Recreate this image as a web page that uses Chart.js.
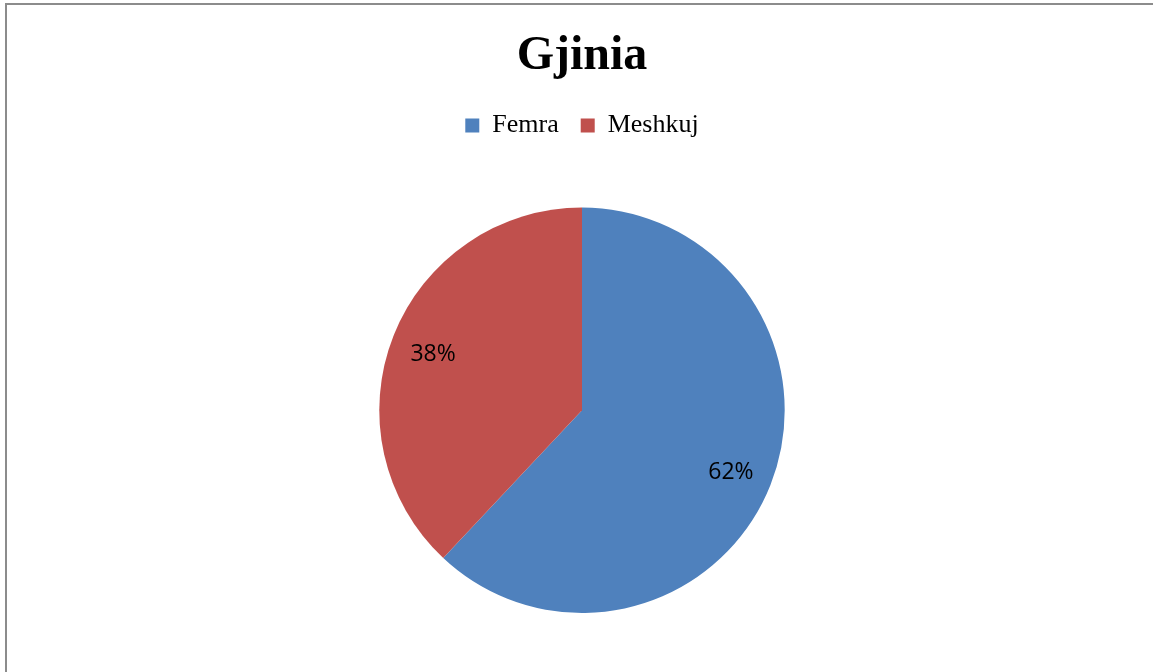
<!DOCTYPE html>
<html>
<head>
<meta charset="utf-8">
<script src="https://cdn.jsdelivr.net/npm/chart.js@4"></script>
<style>
  html, body { margin: 0; padding: 0; background: #fff; overflow: hidden; }
  #wrap { position: absolute; left: 0; top: 0; width: 1153px; height: 672px; }
  #frame { position: absolute; left: 5px; top: 3px; width: 1200px; height: 720px; border: 2px solid #8c8c8c; box-sizing: border-box; pointer-events: none; }
</style>
</head>
<body>
<div id="wrap">
  <canvas id="pieChart" width="1153" height="672"></canvas>
  <div id="frame"></div>
</div>
<script>
const categories = ['Femra', 'Meshkuj'];
const shares = [62, 38];
const sliceColors = ['#4f81bd', '#c0504d'];
const chartTitle = 'Gjinia';

// percentage labels drawn inside each slice
const sliceLabels = {
    id: 'sliceLabels',
    afterDatasetsDraw(chart) {
        const ctx = chart.ctx;
        const meta = chart.getDatasetMeta(0);
        ctx.save();
        ctx.font = '23px "Open Sans", sans-serif';
        ctx.fillStyle = '#000';
        ctx.textAlign = 'center';
        ctx.textBaseline = 'middle';
        meta.data.forEach((arc, i) => {
            const mid = (arc.startAngle + arc.endAngle) / 2;
            const r = arc.outerRadius * 0.79;
            const x = arc.x + Math.cos(mid) * r;
            const y = arc.y + Math.sin(mid) * r + 3;
            ctx.fillText(shares[i] + '%', x, y);
        });
        ctx.restore();
    }
};

// leave a gap under the legend, like the original
const legendGap = {
    id: 'legendGap',
    beforeInit(chart) {
        const fit = chart.legend.fit;
        chart.legend.fit = function () {
            fit.bind(chart.legend)();
            this.height += 59;
        };
    }
};

const ctx = document.getElementById('pieChart').getContext('2d');
const pieChart = new Chart(ctx, {
    type: 'pie',
    data: {
        labels: categories,
        datasets: [{ data: shares, backgroundColor: sliceColors, borderWidth: 0 }]
    },
    options: {
        responsive: false,
        animation: false,
        layout: { padding: { top: 28, bottom: 59, left: 11, right: 0 } },
        plugins: {
            title: {
                display: true,
                text: chartTitle,
                color: '#000',
                font: { family: '"Liberation Serif", serif', size: 48, weight: 'bold' },
                padding: { top: 0, bottom: 5 }
            },
            legend: {
                position: 'top',
                labels: {
                    color: '#000',
                    font: { family: '"Liberation Serif", serif', size: 26 },
                    boxWidth: 14,
                    boxHeight: 14,
                    padding: 22
                }
            },
            tooltip: { enabled: false }
        }
    },
    plugins: [sliceLabels, legendGap]
});
</script>
</body>
</html>
